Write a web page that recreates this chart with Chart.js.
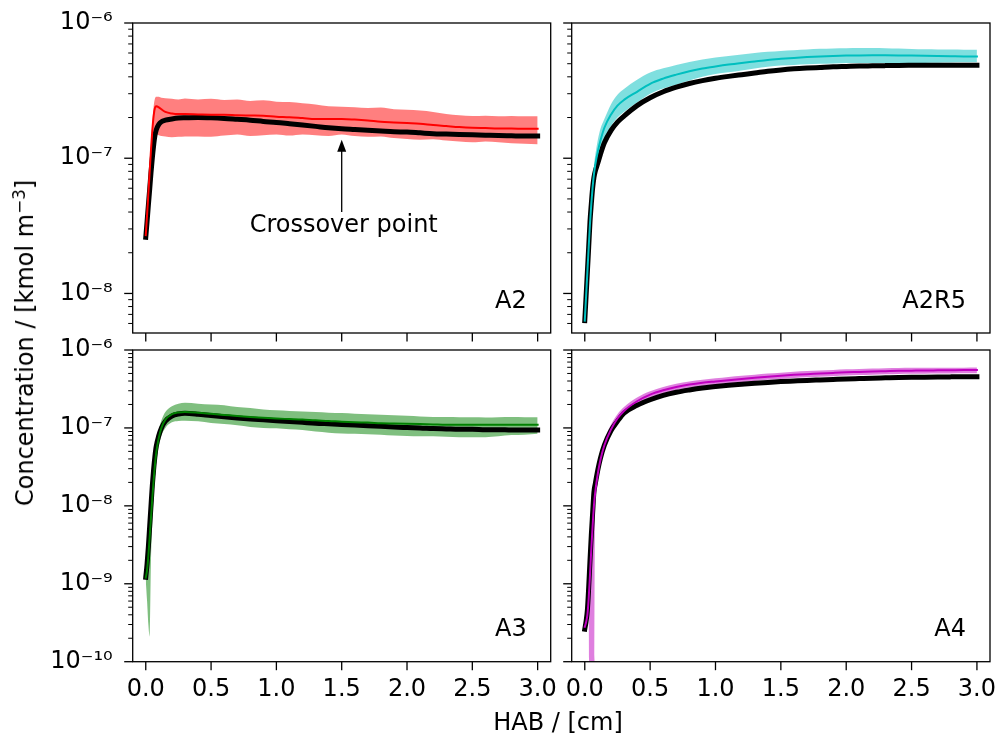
<!DOCTYPE html>
<html>
<head>
<meta charset="utf-8">
<script src="https://cdn.jsdelivr.net/npm/chart.js@4.4.1/dist/chart.umd.min.js"></script>
<style>
  html, body { margin: 0; padding: 0; background: #fff; }
  #fig { position: relative; width: 999px; height: 742px; overflow: hidden; font-family: 'DejaVu Sans', sans-serif; }
  #fig canvas { position: absolute; left: 0; top: 0; }
  .axlabel { position: absolute; font-size: 24px; line-height: 24px; white-space: nowrap; color: #000; }
  .axlabel sup { font-size: 70%; vertical-align: 0.5em; line-height: 0; }
</style>
</head>
<body>
<div id="fig">
  <canvas id="pA2" width="999" height="742"></canvas>
  <canvas id="pA2R5" width="999" height="742"></canvas>
  <canvas id="pA3" width="999" height="742"></canvas>
  <canvas id="pA4" width="999" height="742"></canvas>
  <div class="axlabel" style="left:558px; top:722px; transform:translate(-50%,-50%);">HAB / [cm]</div>
  <div class="axlabel" style="left:25px; top:343px; transform:translate(-50%,-50%) rotate(-90deg);">Concentration / [kmol m<sup>−3</sup>]</div>
</div>
<script>
// Height above burner [cm], shared sampling of all profiles
const HAB = [0, 0.01, 0.02, 0.03, 0.04, 0.05, 0.06, 0.07, 0.08, 0.1, 0.12, 0.15, 0.2, 0.25, 0.3,
  0.4, 0.5, 0.6, 0.7, 0.8, 0.9, 1.0, 1.1, 1.2, 1.3, 1.4, 1.5, 1.6, 1.7, 1.8, 1.9,
  2.0, 2.1, 2.2, 2.3, 2.4, 2.5, 2.6, 2.7, 2.8, 2.9, 3.0];

// A2: model (black), mean of samples, upper / lower envelope
const a2Model = [2.6e-8, 3.4e-8, 4.5e-8, 5.9e-8, 7.8e-8, 1.0e-7, 1.24e-7, 1.47e-7, 1.62e-7, 1.78e-7, 1.86e-7, 1.91e-7, 1.95e-7, 1.98e-7, 1.99e-7,
  2.0e-7, 1.99e-7, 1.97e-7, 1.94e-7, 1.91e-7, 1.87e-7, 1.84e-7, 1.80e-7, 1.76e-7, 1.72e-7, 1.68e-7, 1.65e-7, 1.63e-7, 1.61e-7, 1.59e-7, 1.57e-7,
  1.56e-7, 1.54e-7, 1.52e-7, 1.51e-7, 1.50e-7, 1.49e-7, 1.48e-7, 1.47e-7, 1.465e-7, 1.46e-7, 1.46e-7];
const a2Mean = [2.7e-8, 3.8e-8, 5.5e-8, 8.0e-8, 1.15e-7, 1.6e-7, 2.05e-7, 2.35e-7, 2.42e-7, 2.38e-7, 2.3e-7, 2.2e-7, 2.14e-7, 2.12e-7, 2.12e-7,
  2.11e-7, 2.1e-7, 2.1e-7, 2.08e-7, 2.07e-7, 2.06e-7, 2.03e-7, 2.01e-7, 1.98e-7, 1.95e-7, 1.95e-7, 1.95e-7, 1.93e-7, 1.9e-7, 1.86e-7, 1.84e-7,
  1.82e-7, 1.8e-7, 1.76e-7, 1.73e-7, 1.7e-7, 1.68e-7, 1.67e-7, 1.66e-7, 1.66e-7, 1.65e-7, 1.65e-7];
const a2Upper = [2.8e-8, 4.0e-8, 6.0e-8, 9.0e-8, 1.3e-7, 1.8e-7, 2.4e-7, 2.75e-7, 2.85e-7, 2.85e-7, 2.8e-7, 2.78e-7, 2.75e-7, 2.72e-7, 2.76e-7,
  2.72e-7, 2.75e-7, 2.7e-7, 2.72e-7, 2.65e-7, 2.68e-7, 2.62e-7, 2.6e-7, 2.55e-7, 2.5e-7, 2.42e-7, 2.4e-7, 2.38e-7, 2.35e-7, 2.37e-7, 2.3e-7,
  2.28e-7, 2.25e-7, 2.2e-7, 2.12e-7, 2.08e-7, 2.05e-7, 2.06e-7, 2.04e-7, 2.05e-7, 2.04e-7, 2.04e-7];
const a2Lower = [2.5e-8, 3.0e-8, 3.8e-8, 4.8e-8, 6.2e-8, 8.0e-8, 1.05e-7, 1.45e-7, 1.5e-7, 1.48e-7, 1.46e-7, 1.45e-7, 1.43e-7, 1.44e-7, 1.45e-7,
  1.45e-7, 1.44e-7, 1.47e-7, 1.5e-7, 1.46e-7, 1.48e-7, 1.5e-7, 1.47e-7, 1.5e-7, 1.48e-7, 1.46e-7, 1.5e-7, 1.46e-7, 1.44e-7, 1.45e-7, 1.41e-7,
  1.39e-7, 1.37e-7, 1.38e-7, 1.35e-7, 1.33e-7, 1.31e-7, 1.33e-7, 1.31e-7, 1.29e-7, 1.28e-7, 1.27e-7];

// A2R5
const a2r5Model = [6.3e-9, 9.5e-9, 1.45e-8, 2.2e-8, 3.4e-8, 4.6e-8, 6.0e-8, 7.2e-8, 8.0e-8, 9.2e-8, 1.07e-7, 1.3e-7, 1.6e-7, 1.85e-7, 2.05e-7,
  2.45e-7, 2.8e-7, 3.1e-7, 3.35e-7, 3.57e-7, 3.75e-7, 3.9e-7, 4.03e-7, 4.15e-7, 4.27e-7, 4.4e-7, 4.5e-7, 4.58e-7, 4.64e-7, 4.69e-7, 4.74e-7,
  4.77e-7, 4.8e-7, 4.82e-7, 4.84e-7, 4.86e-7, 4.87e-7, 4.88e-7, 4.88e-7, 4.88e-7, 4.88e-7, 4.88e-7];
const a2r5Mean = [6.3e-9, 9.5e-9, 1.45e-8, 2.2e-8, 3.3e-8, 4.6e-8, 6.1e-8, 7.6e-8, 8.9e-8, 1.12e-7, 1.35e-7, 1.68e-7, 2.1e-7, 2.45e-7, 2.7e-7,
  3.1e-7, 3.55e-7, 3.88e-7, 4.15e-7, 4.4e-7, 4.6e-7, 4.77e-7, 4.93e-7, 5.07e-7, 5.2e-7, 5.33e-7, 5.43e-7, 5.52e-7, 5.6e-7, 5.66e-7, 5.71e-7,
  5.74e-7, 5.76e-7, 5.77e-7, 5.77e-7, 5.76e-7, 5.74e-7, 5.72e-7, 5.7e-7, 5.68e-7, 5.66e-7, 5.65e-7];
const a2r5Upper = [6.5e-9, 1.0e-8, 1.55e-8, 2.35e-8, 3.6e-8, 5.1e-8, 6.9e-8, 8.8e-8, 1.05e-7, 1.37e-7, 1.65e-7, 1.95e-7, 2.5e-7, 2.95e-7, 3.25e-7,
  3.8e-7, 4.3e-7, 4.62e-7, 4.9e-7, 5.15e-7, 5.38e-7, 5.56e-7, 5.7e-7, 5.85e-7, 6.0e-7, 6.12e-7, 6.22e-7, 6.3e-7, 6.38e-7, 6.44e-7, 6.48e-7,
  6.5e-7, 6.52e-7, 6.52e-7, 6.5e-7, 6.47e-7, 6.43e-7, 6.4e-7, 6.38e-7, 6.36e-7, 6.34e-7, 6.33e-7];
const a2r5Lower = [6.1e-9, 9.0e-9, 1.35e-8, 2.05e-8, 3.05e-8, 4.1e-8, 5.3e-8, 6.5e-8, 7.5e-8, 9.2e-8, 1.1e-7, 1.38e-7, 1.72e-7, 2.0e-7, 2.2e-7,
  2.58e-7, 3.0e-7, 3.28e-7, 3.5e-7, 3.75e-7, 4.0e-7, 4.19e-7, 4.32e-7, 4.45e-7, 4.6e-7, 4.74e-7, 4.84e-7, 4.9e-7, 4.95e-7, 4.99e-7, 5.02e-7,
  5.05e-7, 5.06e-7, 5.07e-7, 5.07e-7, 5.06e-7, 5.05e-7, 5.06e-7, 5.08e-7, 5.1e-7, 5.12e-7, 5.13e-7];

// A3
const a3Model = [1.21e-9, 1.8e-9, 3.0e-9, 5.5e-9, 1.0e-8, 1.8e-8, 2.9e-8, 4.3e-8, 5.8e-8, 8.0e-8, 1.0e-7, 1.22e-7, 1.42e-7, 1.51e-7, 1.54e-7,
  1.5e-7, 1.44e-7, 1.39e-7, 1.34e-7, 1.3e-7, 1.27e-7, 1.24e-7, 1.21e-7, 1.18e-7, 1.15e-7, 1.13e-7, 1.11e-7, 1.09e-7, 1.07e-7, 1.05e-7, 1.03e-7,
  1.01e-7, 1.0e-7, 9.8e-8, 9.7e-8, 9.6e-8, 9.6e-8, 9.5e-8, 9.5e-8, 9.4e-8, 9.4e-8, 9.4e-8];
const a3Mean = [1.2e-9, 1.5e-9, 2.3e-9, 4.0e-9, 7.0e-9, 1.25e-8, 2.1e-8, 3.3e-8, 4.8e-8, 7.5e-8, 1.0e-7, 1.28e-7, 1.5e-7, 1.58e-7, 1.6e-7,
  1.57e-7, 1.52e-7, 1.47e-7, 1.42e-7, 1.38e-7, 1.35e-7, 1.32e-7, 1.3e-7, 1.28e-7, 1.25e-7, 1.23e-7, 1.2e-7, 1.18e-7, 1.17e-7, 1.15e-7, 1.14e-7,
  1.13e-7, 1.12e-7, 1.11e-7, 1.1e-7, 1.1e-7, 1.1e-7, 1.1e-7, 1.1e-7, 1.1e-7, 1.1e-7, 1.1e-7];
const a3Upper = [1.3e-9, 1.8e-9, 2.8e-9, 5.0e-9, 9.0e-9, 1.6e-8, 2.7e-8, 4.3e-8, 6.2e-8, 9.5e-8, 1.25e-7, 1.6e-7, 1.9e-7, 2.05e-7, 2.1e-7,
  2.05e-7, 2.0e-7, 1.95e-7, 1.85e-7, 1.8e-7, 1.72e-7, 1.68e-7, 1.65e-7, 1.62e-7, 1.6e-7, 1.57e-7, 1.55e-7, 1.52e-7, 1.5e-7, 1.48e-7, 1.45e-7,
  1.43e-7, 1.4e-7, 1.38e-7, 1.38e-7, 1.37e-7, 1.37e-7, 1.36e-7, 1.37e-7, 1.38e-7, 1.37e-7, 1.37e-7];
const a3Lower = [1.1e-9, 6.0e-10, 3.0e-10, 2.1e-10, 2.0e-9, 6.0e-9, 1.3e-8, 2.3e-8, 3.5e-8, 5.8e-8, 8.0e-8, 1.0e-7, 1.18e-7, 1.23e-7, 1.24e-7,
  1.22e-7, 1.16e-7, 1.12e-7, 1.08e-7, 1.03e-7, 1.0e-7, 9.9e-8, 9.6e-8, 9.4e-8, 9.0e-8, 8.7e-8, 8.5e-8, 8.4e-8, 8.3e-8, 8.2e-8, 8.0e-8,
  7.9e-8, 7.8e-8, 7.8e-8, 7.7e-8, 7.6e-8, 7.6e-8, 7.6e-8, 7.8e-8, 8.1e-8, 8.2e-8, 8.4e-8];

// A4 (lower envelope falls below zero near the inlet: kept as a tiny positive floor)
const a4Model = [2.62e-10, 3.3e-10, 4.6e-10, 9.0e-10, 2.0e-9, 4.2e-9, 8.0e-9, 1.5e-8, 1.9e-8, 2.9e-8, 4.1e-8, 6.0e-8, 9.2e-8, 1.22e-7, 1.55e-7,
  1.95e-7, 2.3e-7, 2.62e-7, 2.87e-7, 3.07e-7, 3.25e-7, 3.39e-7, 3.52e-7, 3.63e-7, 3.74e-7, 3.84e-7, 3.93e-7, 4.0e-7, 4.07e-7, 4.13e-7, 4.19e-7,
  4.25e-7, 4.3e-7, 4.35e-7, 4.39e-7, 4.43e-7, 4.46e-7, 4.48e-7, 4.5e-7, 4.52e-7, 4.54e-7, 4.55e-7];
const a4Mean = [2.8e-10, 3.2e-10, 4.0e-10, 6.5e-10, 1.3e-9, 2.8e-9, 5.5e-9, 1.0e-8, 1.5e-8, 2.6e-8, 3.9e-8, 6.0e-8, 9.5e-8, 1.32e-7, 1.65e-7,
  2.2e-7, 2.68e-7, 3.05e-7, 3.35e-7, 3.6e-7, 3.8e-7, 3.95e-7, 4.1e-7, 4.25e-7, 4.4e-7, 4.55e-7, 4.68e-7, 4.8e-7, 4.9e-7, 4.98e-7, 5.08e-7,
  5.17e-7, 5.23e-7, 5.3e-7, 5.35e-7, 5.4e-7, 5.43e-7, 5.46e-7, 5.48e-7, 5.5e-7, 5.52e-7, 5.53e-7];
const a4Upper = [3.0e-10, 3.5e-10, 4.5e-10, 7.5e-10, 1.6e-9, 3.4e-9, 6.8e-9, 1.25e-8, 1.85e-8, 3.1e-8, 4.6e-8, 7.0e-8, 1.1e-7, 1.5e-7, 1.85e-7,
  2.45e-7, 2.95e-7, 3.35e-7, 3.68e-7, 3.95e-7, 4.16e-7, 4.33e-7, 4.5e-7, 4.66e-7, 4.82e-7, 4.98e-7, 5.12e-7, 5.25e-7, 5.36e-7, 5.45e-7, 5.55e-7,
  5.65e-7, 5.72e-7, 5.79e-7, 5.84e-7, 5.88e-7, 5.9e-7, 5.92e-7, 5.93e-7, 5.94e-7, 5.94e-7, 5.95e-7];
const a4Lower = [2.6e-10, 2.9e-10, 3.3e-10, 4.5e-10, 1e-12, 1e-12, 1e-12, 1e-12, 1.2e-8, 2.2e-8, 3.3e-8, 5.1e-8, 8.2e-8, 1.15e-7, 1.46e-7,
  1.97e-7, 2.42e-7, 2.77e-7, 3.05e-7, 3.27e-7, 3.45e-7, 3.6e-7, 3.73e-7, 3.86e-7, 4.0e-7, 4.14e-7, 4.26e-7, 4.37e-7, 4.46e-7, 4.53e-7, 4.62e-7,
  4.7e-7, 4.76e-7, 4.82e-7, 4.87e-7, 4.91e-7, 4.94e-7, 4.97e-7, 4.99e-7, 5.01e-7, 5.02e-7, 5.03e-7];

// Axis ticks and labels
const xTicks = [0, 0.5, 1.0, 1.5, 2.0, 2.5, 3.0];
const yDecadesTop = [1e-8, 1e-7, 1e-6];
const yLabelsTop = ['10⁻⁸', '10⁻⁷', '10⁻⁶'];
const yDecadesBottom = [1e-10, 1e-9, 1e-8, 1e-7, 1e-6];
const yLabelsBottom = ['10⁻¹⁰', '10⁻⁹', '10⁻⁸', '10⁻⁷', '10⁻⁶'];
const yRangeTop = [5.1e-9, 1e-6];
const yRangeBottom = [1e-10, 1e-6];

// Annotation in the A2 panel
const crossover = { hab: 1.5, tip: 1.37e-7, tail: 4.0e-8, textAt: 2.85e-8, text: 'Crossover point' };

const FONT = "'DejaVu Sans', sans-serif";
const Y_BAND = 120;
const X_BAND = 60;

function series(values) {
  return HAB.map((x, i) => ({ x: x, y: values[i] }));
}

// major decades plus the 2..9 minor positions that fall inside the range
function logTicks(range, decades) {
  const out = [];
  const bases = [decades[0] / 10].concat(decades.slice(0, -1));
  bases.forEach((base, k) => {
    for (let m = 1; m <= 9; m++) {
      const v = m === 1 ? (k === 0 ? base : decades[k - 1]) : m * base;
      if (v >= range[0] && v <= range[1]) out.push(v);
    }
  });
  out.push(decades[decades.length - 1]);
  return out;
}

const panelDecor = {
  id: 'panelDecor',
  afterDatasetsDraw(chart, args, opts) {
    const { ctx, chartArea: a } = chart;
    const x = chart.scales.x, y = chart.scales.y;
    ctx.save();
    ctx.strokeStyle = '#000';
    ctx.fillStyle = '#000';
    // outward tick marks on the left and bottom spines
    for (const t of y.ticks) {
      const py = y.getPixelForValue(t.value);
      const major = opts.decades.includes(t.value);
      ctx.lineWidth = major ? 1.3 : 1.0;
      ctx.beginPath();
      ctx.moveTo(a.left - (major ? 8.5 : 4.5), py);
      ctx.lineTo(a.left, py);
      ctx.stroke();
    }
    ctx.lineWidth = 1.3;
    for (const t of x.ticks) {
      const px = x.getPixelForValue(t.value);
      ctx.beginPath();
      ctx.moveTo(px, a.bottom);
      ctx.lineTo(px, a.bottom + 8.5);
      ctx.stroke();
    }
    // frame
    ctx.lineWidth = 1.3;
    ctx.strokeRect(a.left, a.top, a.right - a.left, a.bottom - a.top);
    // case label
    ctx.font = '24px ' + FONT;
    ctx.textAlign = 'right';
    ctx.textBaseline = 'alphabetic';
    ctx.fillText(opts.tag, a.right - 24, a.bottom - 25.5);
    // arrow annotation
    if (opts.note) {
      const n = opts.note;
      const px = x.getPixelForValue(n.hab);
      const tipY = y.getPixelForValue(n.tip);
      const tailY = y.getPixelForValue(n.tail);
      ctx.lineWidth = 1.3;
      ctx.beginPath();
      ctx.moveTo(px, tailY);
      ctx.lineTo(px, tipY + 8);
      ctx.stroke();
      ctx.beginPath();
      ctx.moveTo(px, tipY);
      ctx.lineTo(px - 4.5, tipY + 12);
      ctx.lineTo(px + 4.5, tipY + 12);
      ctx.closePath();
      ctx.fill();
      ctx.textAlign = 'center';
      ctx.fillText(n.text, px + 2, y.getPixelForValue(n.textAt));
    }
    ctx.restore();
  }
};

function makePanel(id, cfg) {
  const a = cfg.area;
  const ticksY = logTicks(cfg.range, cfg.decades);
  const lineOpts = { pointRadius: 0, borderCapStyle: 'square', borderJoinStyle: 'round', cubicInterpolationMode: 'monotone' };
  return new Chart(document.getElementById(id), {
    type: 'line',
    data: {
      datasets: [
        Object.assign({ data: series(cfg.upper), borderWidth: 0, fill: '+1', backgroundColor: cfg.band, order: 3 }, lineOpts),
        Object.assign({ data: series(cfg.lower), borderWidth: 0, fill: false, order: 4 }, lineOpts),
        Object.assign({ data: series(cfg.model), borderColor: '#000', borderWidth: 5, fill: false, order: 1 }, lineOpts),
        Object.assign({ data: series(cfg.mean), borderColor: cfg.color, borderWidth: 2, fill: false, order: 0 }, lineOpts)
      ]
    },
    options: {
      responsive: false,
      animation: false,
      devicePixelRatio: 1,
      events: [],
      layout: { padding: { left: a.l - Y_BAND, right: 999 - a.r, top: a.t, bottom: 742 - a.b - X_BAND } },
      plugins: {
        legend: { display: false },
        tooltip: { enabled: false },
        panelDecor: { tag: cfg.tag, decades: cfg.decades, note: cfg.note || null }
      },
      scales: {
        x: {
          type: 'linear', min: -0.1, max: 3.1,
          afterBuildTicks: s => { s.ticks = xTicks.map(v => ({ value: v })); },
          afterFit: s => { s.height = X_BAND; s.paddingLeft = 0; s.paddingRight = 0; },
          grid: { display: false, drawTicks: false },
          border: { display: false },
          ticks: { display: cfg.showX, autoSkip: false, maxRotation: 0, padding: 14, color: '#000',
                   font: { family: FONT, size: 24 }, callback: v => Number(v).toFixed(1) }
        },
        y: {
          type: 'logarithmic', min: cfg.range[0], max: cfg.range[1],
          afterBuildTicks: s => { s.ticks = ticksY.map(v => ({ value: v })); },
          afterFit: s => { s.width = Y_BAND; s.paddingTop = 0; s.paddingBottom = 0; },
          grid: { display: false, drawTicks: false },
          border: { display: false },
          ticks: { display: cfg.showY, autoSkip: false, padding: 20, color: '#000',
                   font: { family: FONT, size: 24 },
                   callback: v => { const k = cfg.decades.indexOf(v); return k >= 0 ? cfg.labels[k] : ''; } }
        }
      }
    },
    plugins: [panelDecor]
  });
}

makePanel('pA2', {
  area: { l: 132.7, r: 550.7, t: 23, b: 333 }, range: yRangeTop, decades: yDecadesTop, labels: yLabelsTop,
  showX: false, showY: true, tag: 'A2', note: crossover,
  model: a2Model, mean: a2Mean, upper: a2Upper, lower: a2Lower,
  color: '#ff0000', band: 'rgba(255,0,0,0.5)'
});
makePanel('pA2R5', {
  area: { l: 571.7, r: 990, t: 23, b: 333 }, range: yRangeTop, decades: yDecadesTop, labels: yLabelsTop,
  showX: false, showY: false, tag: 'A2R5',
  model: a2r5Model, mean: a2r5Mean, upper: a2r5Upper, lower: a2r5Lower,
  color: '#00bfbf', band: 'rgba(0,191,191,0.5)'
});
makePanel('pA3', {
  area: { l: 132.7, r: 550.7, t: 350, b: 661.7 }, range: yRangeBottom, decades: yDecadesBottom, labels: yLabelsBottom,
  showX: true, showY: true, tag: 'A3',
  model: a3Model, mean: a3Mean, upper: a3Upper, lower: a3Lower,
  color: '#008000', band: 'rgba(0,128,0,0.5)'
});
makePanel('pA4', {
  area: { l: 571.7, r: 990, t: 350, b: 661.7 }, range: yRangeBottom, decades: yDecadesBottom, labels: yLabelsBottom,
  showX: true, showY: false, tag: 'A4',
  model: a4Model, mean: a4Mean, upper: a4Upper, lower: a4Lower,
  color: '#bf00bf', band: 'rgba(191,0,191,0.5)'
});
</script>
</body>
</html>
